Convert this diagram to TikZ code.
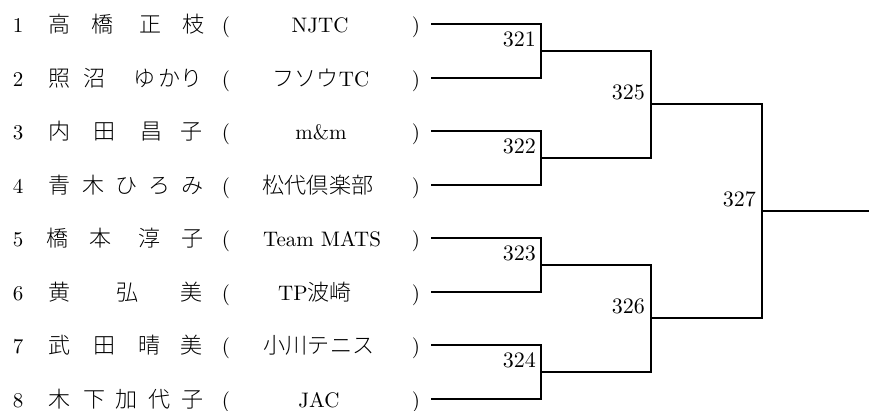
\documentclass[tikz,border=0pt]{standalone}
\usepackage{fontspec}
\setmainfont{lmroman10-regular}[Extension=.otf]
\newfontfamily\cjk[Scale=1.05]{Noto Sans CJK JP Light}
\usetikzlibrary{calc}
\begin{document}
\begin{tikzpicture}[x={(1bp,0)}, y={(0,-1bp)},
  txt/.style={inner sep=0, anchor=base, font=\fontsize{21bp}{25bp}\selectfont},
  lbl/.style={inner sep=0, anchor=base east, font=\fontsize{22bp}{26bp}\selectfont},
  wire/.style={line width=2.6bp, line join=miter}]
\useasboundingbox (0,0) rectangle (869,410);
\foreach \r/\yy/\cx/\club/\names in {
  1/24/320/{NJTC}/{60/高,103/橋,151/正,194/枝},
  2/78/321/{{\cjk フソウ}TC}/{60/照,95/沼,145/ゆ,170/か,192/り},
  3/131/321/{m\&m}/{60/内,105/田,152/昌,192/子},
  4/185/318/{{\cjk 松代倶楽部}}/{60/青,94/木,127/ひ,160/ろ,193/み},
  5/238/322/{Team MATS}/{58/橋,101/本,150/淳,193/子},
  6/292/315/{TP{\cjk 波崎}}/{60/黄,128/弘,192/美},
  7/345/319/{{\cjk 小川テニス}}/{60/武,105/田,150/晴,192/美},
  8/399/319/{JAC}/{60/木,95/下,127/加,160/代,193/子}}{
  \node[txt] (num\r) at (18,\yy+8) {\r};
  \foreach \xx/\ch [count=\k] in \names {
    \node[txt] (nm\r-\k) at (\xx,\yy+8) {\cjk\ch};
  }
  \node[txt] (lp\r) at (226,\yy+8) {(};
  \node[txt] (club\r) at (\cx,\yy+8) {\club};
  \node[txt] (rp\r) at (416,\yy+8) {)};
  \coordinate (e\r) at (431,\yy);
}
\coordinate (m321) at (541,51);
\coordinate (m322) at (541,158);
\coordinate (m323) at (541,265);
\coordinate (m324) at (541,372);
\coordinate (m325) at (651,104);
\coordinate (m326) at (651,318);
\coordinate (m327) at (762,211);
\coordinate (fin) at (869,211);
\draw[wire] (e1) -| (m321) |- (e2);
\draw[wire] (e3) -| (m322) |- (e4);
\draw[wire] (e5) -| (m323) |- (e6);
\draw[wire] (e7) -| (m324) |- (e8);
\draw[wire] (m321) -| (m325) |- (m322);
\draw[wire] (m323) -| (m326) |- (m324);
\draw[wire] (m325) -| (m327) |- (m326);
\draw[wire] (m327) -- (fin);
\foreach \m in {321,322,323,324} {
  \node[lbl] (l\m) at ($(m\m)+(-5,-4.5)$) {\m};
}
\foreach \m in {325,326,327} {
  \node[lbl] (l\m) at ($(m\m)+(-6,-4.5)$) {\m};
}
\end{tikzpicture}
\end{document}
